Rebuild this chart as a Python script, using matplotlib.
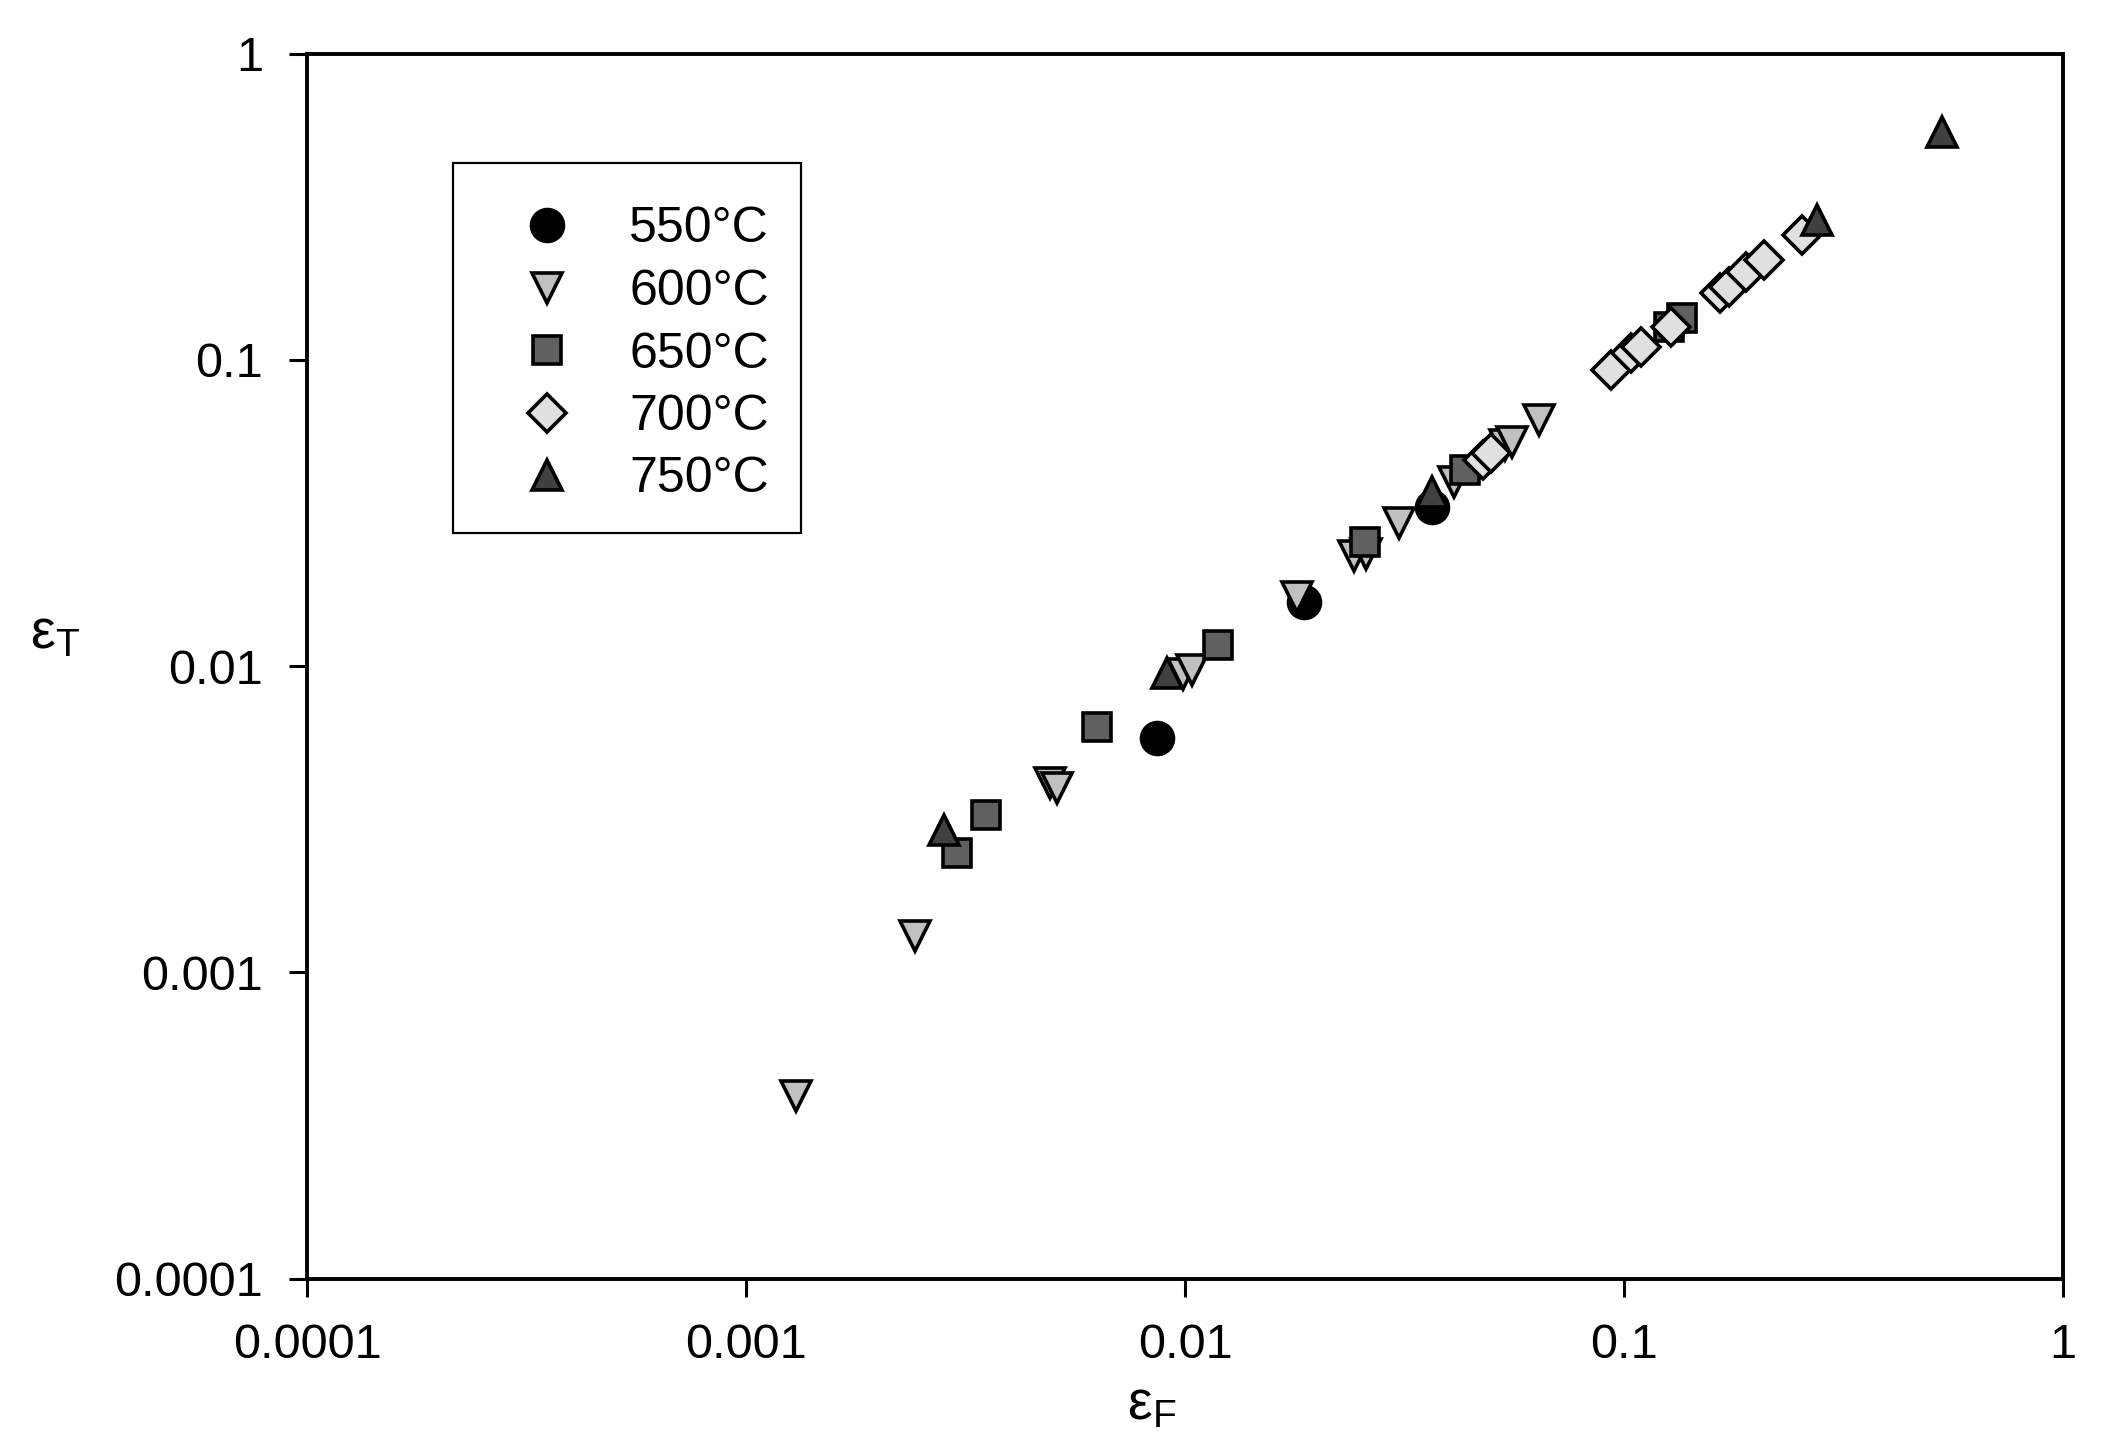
import matplotlib
matplotlib.use('Agg')
import matplotlib.pyplot as plt
from matplotlib.patches import Rectangle
from matplotlib.ticker import NullLocator

plt.rcParams['font.family'] = ['Liberation Sans', 'DejaVu Sans']
plt.rcParams['mathtext.fontset'] = 'custom'
plt.rcParams['mathtext.rm'] = 'Liberation Sans'
plt.rcParams['mathtext.it'] = 'Liberation Sans'

# data (strain eps_F vs eps_T)
labels = ['550°C', '600°C', '650°C', '700°C', '750°C']

x_550 = [0.00863, 0.0186, 0.0365]
y_550 = [0.00582, 0.0162, 0.0330]

x_600 = [0.0013, 0.00242, 0.00492, 0.0051, 0.0099, 0.01036, 0.018,
         0.0243, 0.0258, 0.0307, 0.041, 0.0535, 0.0555, 0.0641]
y_600 = [0.000394, 0.00131, 0.00415, 0.0040, 0.0094, 0.0097, 0.0168,
         0.0228, 0.0232, 0.0293, 0.040, 0.0527, 0.054, 0.0636]

x_650 = [0.00302, 0.00352, 0.00629, 0.01186, 0.0257, 0.0433, 0.1265, 0.1355]
y_650 = [0.00245, 0.00327, 0.00633, 0.01172, 0.0255, 0.0437, 0.128, 0.137]

x_700 = [0.0476, 0.0497, 0.0933, 0.1035, 0.109, 0.128, 0.165, 0.173,
         0.190, 0.208, 0.254]
y_700 = [0.047, 0.0497, 0.0927, 0.105, 0.110, 0.128, 0.165, 0.173,
         0.194, 0.212, 0.256]

x_750 = [0.00282, 0.0091, 0.0365, 0.275, 0.530]
y_750 = [0.00292, 0.0095, 0.0371, 0.286, 0.556]

tick_vals = [0.0001, 0.001, 0.01, 0.1, 1]
tick_labels = ['0.0001', '0.001', '0.01', '0.1', '1']

W, H = 2106, 1446
fig = plt.figure(figsize=(W / 100, H / 100), dpi=100)
ax = fig.add_axes([0.146, 0.1158, 0.8336, 0.8471])

mew = 2.6
ax.plot(x_550, y_550, 'o', ms=23, mfc='black', mec='black', mew=mew, label=labels[0])
ax.plot(x_600, y_600, 'v', ms=22, mfc='#c0c0c0', mec='black', mew=mew, label=labels[1])
ax.plot(x_650, y_650, 's', ms=20, mfc='#606060', mec='black', mew=mew, label=labels[2])
ax.plot(x_700, y_700, 'D', ms=19.5, mfc='#e0e0e0', mec='black', mew=mew, label=labels[3])
ax.plot(x_750, y_750, '^', ms=22, mfc='#404040', mec='black', mew=mew, label=labels[4])

ax.set_xscale('log')
ax.set_yscale('log')
ax.set_xlim(0.0001, 1)
ax.set_ylim(0.0001, 1)
ax.set_xticks(tick_vals)
ax.set_xticklabels(tick_labels)
ax.set_yticks(tick_vals)
ax.set_yticklabels(tick_labels)
ax.xaxis.set_minor_locator(NullLocator())
ax.yaxis.set_minor_locator(NullLocator())
ax.tick_params(axis='both', which='major', direction='out', length=13, width=2.2,
               pad=19, labelsize=35)
for sp in ax.spines.values():
    sp.set_linewidth(2.8)

fig.text(0.547, 0.028, r'$\mathrm{ε}_\mathrm{F}$', fontsize=40, ha='center', va='center')
fig.text(0.026, 0.561, r'$\mathrm{ε}_\mathrm{T}$', fontsize=40, ha='center', va='center')

# legend entries without frame, plus a plain box drawn around them
leg_x, leg_y, leg_w, leg_h = 453, 163, 348, 370
ax.legend(loc='upper left', bbox_to_anchor=(leg_x / W, 1 - leg_y / H),
          bbox_transform=fig.transFigure, borderaxespad=0, fontsize=36,
          frameon=False, borderpad=0.87, handlelength=2.02, handletextpad=0.63,
          labelspacing=0.33, numpoints=1)
fig.patches.append(Rectangle((leg_x / W, 1 - (leg_y + leg_h) / H), leg_w / W, leg_h / H,
                             transform=fig.transFigure, fill=False,
                             edgecolor='black', linewidth=1.6, zorder=5))

fig.savefig('out.png', dpi=100)
